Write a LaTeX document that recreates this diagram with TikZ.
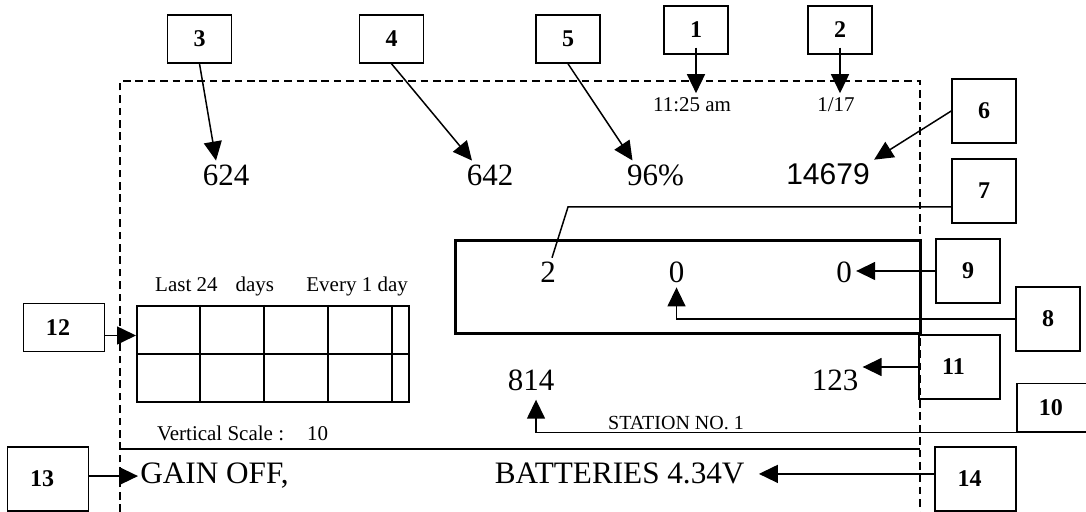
\documentclass[tikz,border=0pt]{standalone}
\usepackage{fontspec}
\setmainfont{Liberation Serif}
\newfontfamily\arialfont{Liberation Sans}
\usepackage{tikz}
\usetikzlibrary{arrows.meta, calc}

\begin{document}
\begin{tikzpicture}[x=0.5pt, y=-0.5pt, >={Triangle[length=9.5pt, width=9pt]},
    tag/.style={draw, line width=0.75pt, inner sep=0pt, minimum width=32pt, minimum height=24pt, font=\fontsize{12}{14}\selectfont\bfseries},
    squaretag/.style={tag, minimum height=32pt},
    widetag/.style={tag, minimum width=40.5pt, minimum height=32pt, execute at begin node=\hspace*{-6pt}},
    reading/.style={font=\fontsize{15.5}{18}\selectfont, inner sep=2pt, anchor=base},
    stamp/.style={font=\fontsize{10.5}{12}\selectfont, inner sep=2pt, anchor=base},
    status/.style={font=\fontsize{15.6}{18}\selectfont, inner sep=1pt, anchor=base west},
    lead/.style={line width=0.75pt}]
    \useasboundingbox (0,0) rectangle (1086,512);

    % Display frame
    \draw[line width=0.8pt, dash pattern=on 3.8pt off 2.4pt] (120,512) -- (120,81) -- (920,81) -- (920,512);
    \draw[line width=1pt] (120,449) -- (920,449);
    \draw[line width=1.5pt] (455,241) rectangle (920,334);

    % Readings
    \node[stamp] (t1125) at (692,111.5) {11:25 am};
    \node[stamp] (t117) at (836,111.5) {1/17};
    \node[reading] (n624) at (226,185.5) {624};
    \node[reading] (n642) at (490,185.5) {642};
    \node[reading] (n96) at (655.5,185.5) {96\%};
    \node[reading, font=\fontsize{15}{18}\selectfont\arialfont] (n14679) at (828,185) {14679};
    \node[reading] (n2) at (548,282.7) {2};
    \node[reading] (zeroM) at (676.5,282.7) {0};
    \node[reading] (zeroR) at (844,283) {0};
    \node[reading] (n814) at (531,391) {814};
    \node[reading] (n123) at (835,391) {123};
    \node[font=\fontsize{10}{12}\selectfont, inner sep=0pt, anchor=base] (station) at (676,430) {STATION NO. 1};
    \node[status] (gain) at (138,484) {GAIN OFF,};
    \node[status] (batt) at (492.5,484) {BATTERIES 4.34V};

    % History chart
    \node[font=\fontsize{10.5}{12}\selectfont, inner sep=0pt, anchor=base west] (last) at (154.8,292) {Last 24\hspace{9pt}days};
    \node[font=\fontsize{10.5}{12}\selectfont, inner sep=0pt, anchor=base west] (every) at (306,292) {Every 1 day};
    \node[draw, line width=1pt, inner sep=0pt, minimum width=136pt, minimum height=48pt, anchor=north west] (grid) at (136,305) {};
    \foreach \gx in {200,264,328,392}
        \draw[line width=1pt] (\gx,305) -- (\gx,401);
    \draw[line width=1pt] (grid.west) -- (grid.east);
    \node[font=\fontsize{10.5}{12}\selectfont, inner sep=0pt, anchor=base west] (vscale) at (156.6,441) {Vertical Scale :\hspace{11.5pt}10};

    % Numbered tags
    \node[tag] (b1) at (696,30) {1};
    \node[tag] (b2) at (840,30) {2};
    \node[tag] (b3) at (199.5,39) {3};
    \node[tag] (b4) at (391.5,39) {4};
    \node[tag] (b5) at (568,39) {5};
    \node[squaretag] (b6) at (984,111) {6};
    \node[squaretag] (b7) at (984,191) {7};
    \node[squaretag] (b9) at (968,271) {9};
    \node[squaretag] (b8) at (1048,319) {8};
    \node[widetag] (b11) at (959.5,367) {11};
    \node[tag, minimum width=48pt, anchor=north west, label={[font=\fontsize{12}{14}\selectfont\bfseries, xshift=-7pt]center:10}] (b10) at (1016,383) {};
    \node[widetag, minimum height=24pt] (b12) at (64,327.5) {12};
    \node[widetag] (b13) at (48,479) {13};
    \node[widetag] (b14) at (975.5,479) {14};

    % Leaders
    \coordinate (k7) at (568,207);
    \draw[lead, ->] ([yshift=3.5pt]b1.south) -- (b1.south |- t1125.north);
    \draw[lead, ->] ([yshift=3.5pt]b2.south) -- (b2.south |- t117.north);
    \draw[lead, ->] (b3.south) -- ([xshift=-5pt]n624.north);
    \draw[lead, ->] (b4.south) -- ([xshift=-9pt]n642.north);
    \draw[lead, ->] (b5.south) -- ([xshift=-11.5pt]n96.north);
    \draw[lead, ->] (b6.west) -- (n14679.north east);
    \draw[lead] ([yshift=-8pt]b7.west) -- (k7) -- ([xshift=2pt]n2.north);
    \draw[lead, ->] (b9.west) -- (b9.west -| zeroR.east);
    \draw[lead, ->] (b8.west) -| (zeroM.south);
    \draw[lead, ->] (b11.west) -- (b11.west -| n123.north east);
    \draw[lead, ->] (b10.south east) -| ([xshift=2.5pt, yshift=-2pt]n814.south);
    \draw[lead, ->] ([yshift=-4pt]b12.east) -- ([yshift=-4pt]b12.east -| grid.west);
    \draw[lead, ->] (b13.east |- gain.west) -- (gain.west);
    \draw[lead, ->] (b14.west |- batt.east) -- ([xshift=6pt]batt.east);
\end{tikzpicture}
\end{document}
